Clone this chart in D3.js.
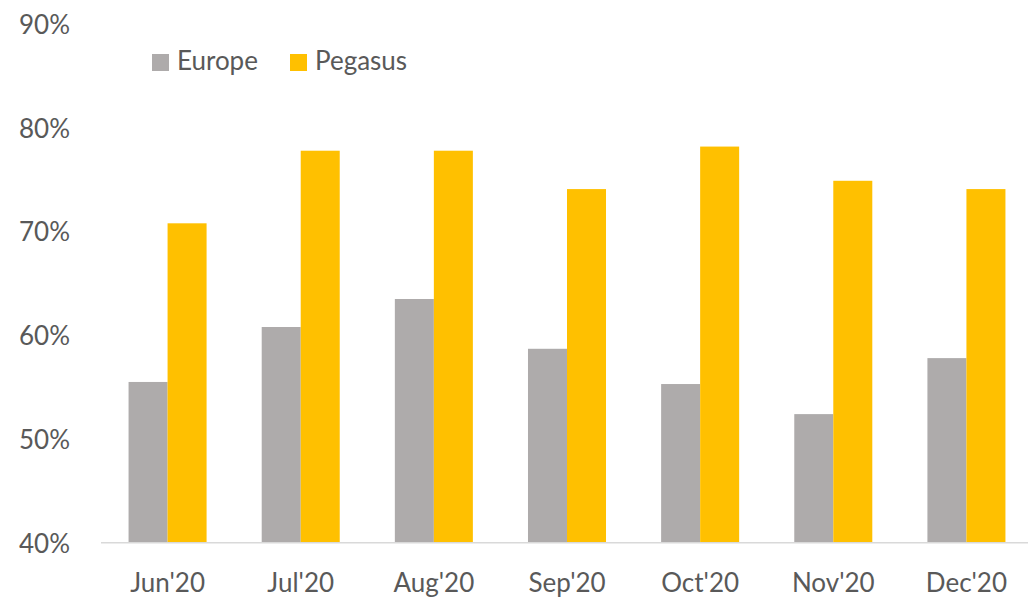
<!DOCTYPE html>
<html>
<head>
<meta charset="utf-8">
<script src="https://cdn.jsdelivr.net/npm/d3@7"></script>
<style>
  html, body { margin: 0; padding: 0; background: #fff; }
  svg { display: block; font-family: Lato, "Open Sans", sans-serif; }
</style>
</head>
<body>
<svg id="chart" width="1028" height="599"></svg>
<script>
const categories = ["Jun'20", "Jul'20", "Aug'20", "Sep'20", "Oct'20", "Nov'20", "Dec'20"];
const seriesNames = ["Europe", "Pegasus"];
const europe = [55.5, 60.8, 63.5, 58.7, 55.3, 52.4, 57.8];
const pegasus = [70.8, 77.8, 77.8, 74.1, 78.2, 74.9, 74.1];
const yTicks = [40, 50, 60, 70, 80, 90];
const colors = ["#AEABAB", "#FFC000"];

const svg = d3.select("#chart");
const textColor = "#595959";

const y = d3.scaleLinear().domain([40, 90]).range([542.7, 24.2]);
const x = d3.scaleBand().domain(categories).range([101, 1033])
  .paddingInner(0.414).paddingOuter(0.207);
const xs = d3.scaleBand().domain(seriesNames).range([0, x.bandwidth()]);
const color = d3.scaleOrdinal().domain(seriesNames).range(colors);

const rows = categories.map((c, i) => ({ cat: c, values: [
  { name: "Europe", v: europe[i] }, { name: "Pegasus", v: pegasus[i] }
]}));

// bars
const g = svg.append("g");
g.selectAll("g.grp").data(rows).join("g")
  .attr("class", "grp")
  .attr("transform", d => `translate(${x(d.cat)},0)`)
  .selectAll("rect").data(d => d.values).join("rect")
  .attr("x", d => xs(d.name))
  .attr("width", xs.bandwidth())
  .attr("y", d => y(d.v))
  .attr("height", d => y(40) - y(d.v))
  .attr("fill", d => color(d.name));

// y axis (labels only)
const yAxis = d3.axisLeft(y).tickValues(yTicks).tickFormat(d => d + "%").tickSize(0).tickPadding(0);
const yg = svg.append("g").attr("transform", "translate(70,0)").call(yAxis);
yg.select(".domain").remove();
yg.selectAll("text").attr("fill", textColor).attr("font-size", 26)
  .attr("font-family", "Lato, 'Open Sans', sans-serif").attr("dy", "0.36em");

// x axis
const xAxis = d3.axisBottom(x).tickSize(0).tickPadding(0);
const xg = svg.append("g").attr("transform", `translate(0,${y(40)})`).call(xAxis);
xg.select(".domain").remove();
xg.selectAll("text").attr("fill", textColor).attr("font-size", 26)
  .attr("font-family", "Lato, 'Open Sans', sans-serif").attr("dy", null).attr("y", 49);
svg.append("line")
  .attr("x1", 101).attr("x2", 1028)
  .attr("y1", y(40)).attr("y2", y(40))
  .attr("stroke", "#D9D9D9").attr("stroke-width", 1.5);

// legend
const legendX = [152, 290];
const leg = svg.append("g").selectAll("g").data(seriesNames).join("g")
  .attr("transform", (d, i) => `translate(${legendX[i]},54)`);
leg.append("rect").attr("width", 17).attr("height", 17).attr("fill", d => color(d));
leg.append("text").attr("x", 25).attr("y", 16).attr("font-size", 26)
  .attr("fill", textColor).text(d => d);
</script>
</body>
</html>
